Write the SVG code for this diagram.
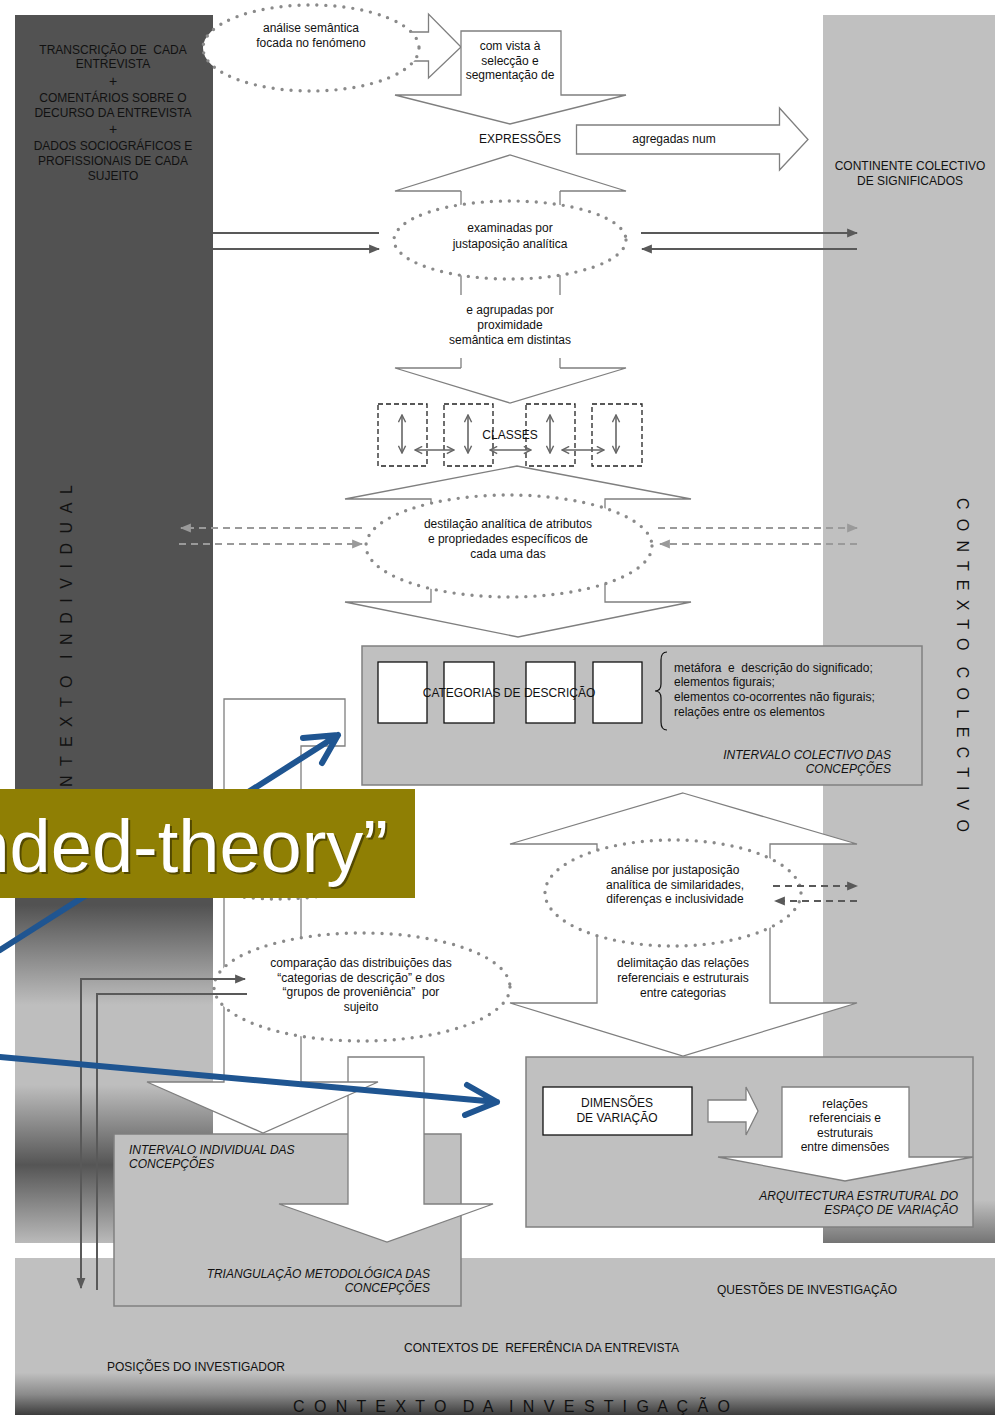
<svg xmlns="http://www.w3.org/2000/svg" width="995" height="1415" viewBox="0 0 995 1415">
<defs>
<style>
text{font-family:"Liberation Sans",Arial,sans-serif;font-size:12px;fill:#111;}
.c{text-anchor:middle;}
.e{text-anchor:end;}
.i{font-style:italic;}
.pre{white-space:pre;}
.blk{fill:#fff;stroke:#7f7f7f;stroke-width:1.3;}
.box{fill:#c0c0c0;stroke:#808080;stroke-width:1.5;}
.wbox{fill:#fff;stroke:#111;stroke-width:1.3;}
.dot{fill:#fff;stroke:#8a8a8a;stroke-width:3.4;stroke-dasharray:0 9;stroke-linecap:round;}
.sol{fill:none;stroke:#595959;stroke-width:2;}
.dsh{fill:none;stroke:#9a9a9a;stroke-width:2;stroke-dasharray:7 5;}
.dshd{fill:none;stroke:#595959;stroke-width:2;stroke-dasharray:7 5;}
.cls{fill:none;stroke:#666;stroke-width:1.6;}
.dbox{fill:none;stroke:#222;stroke-width:1.3;stroke-dasharray:5 3;}
.blue{fill:none;stroke:#1f5591;stroke-width:6;stroke-linecap:round;stroke-linejoin:round;}
.vt{font-size:16px;fill:#111;white-space:pre;}
</style>
<linearGradient id="gl" gradientUnits="userSpaceOnUse" x1="0" y1="15" x2="0" y2="1243">
<stop offset="0" stop-color="#525252"/>
<stop offset="0.7248" stop-color="#525252"/>
<stop offset="0.8062" stop-color="#bebebe"/>
<stop offset="0.8713" stop-color="#bebebe"/>
<stop offset="0.9365" stop-color="#555555"/>
<stop offset="1" stop-color="#bababa"/>
</linearGradient>
<linearGradient id="gr" gradientUnits="userSpaceOnUse" x1="0" y1="15" x2="0" y2="1243">
<stop offset="0" stop-color="#c0c0c0"/>
<stop offset="0.965" stop-color="#c0c0c0"/>
<stop offset="1" stop-color="#747474"/>
</linearGradient>
<linearGradient id="gb" gradientUnits="userSpaceOnUse" x1="0" y1="1258" x2="0" y2="1415">
<stop offset="0" stop-color="#c0c0c0"/>
<stop offset="0.73" stop-color="#c0c0c0"/>
<stop offset="0.87" stop-color="#8a8a8a"/>
<stop offset="1" stop-color="#3c3c3c"/>
</linearGradient>
<marker id="ah" viewBox="0 0 10 10" refX="9" refY="5" markerWidth="11" markerHeight="11" markerUnits="userSpaceOnUse" orient="auto-start-reverse"><path d="M0,1 L10,5 L0,9 z" fill="#595959"/></marker>
<marker id="ahg" viewBox="0 0 10 10" refX="9" refY="5" markerWidth="11" markerHeight="11" markerUnits="userSpaceOnUse" orient="auto-start-reverse"><path d="M0,1 L10,5 L0,9 z" fill="#9a9a9a"/></marker>
<marker id="av" viewBox="0 0 10 10" refX="9" refY="5" markerWidth="9" markerHeight="9" markerUnits="userSpaceOnUse" orient="auto-start-reverse"><path d="M1,1 L9,5 L1,9" fill="none" stroke="#666" stroke-width="1.6"/></marker>
</defs>

<rect x="0" y="0" width="995" height="1415" fill="#fff"/>

<g id="panels">
<rect x="15" y="15" width="198" height="1228" fill="url(#gl)"/>
<rect x="823" y="15" width="172" height="1228" fill="url(#gr)"/>
<rect x="15" y="1258" width="980" height="157" fill="url(#gb)"/>
<text class="vt" transform="translate(72,830) rotate(-90)" textLength="345" lengthAdjust="spacing">C O N T E X T O  I N D I V I D U A L</text>
<text class="vt" transform="translate(957,498) rotate(90)" textLength="334" lengthAdjust="spacing">C O N T E X T O  C O L E C T I V O</text>
<text class="vt" x="293" y="1412" textLength="437" lengthAdjust="spacing">C O N T E X T O  D A  I N V E S T I G A Ç Ã O</text>
</g>

<g id="n-fontes">
<text class="c pre" x="113" y="54">TRANSCRIÇÃO DE  CADA</text>
<text class="c" x="113" y="68">ENTREVISTA</text>
<text class="c" x="113" y="86" style="font-size:14px">+</text>
<text class="c" x="113" y="102">COMENTÁRIOS SOBRE O</text>
<text class="c" x="113" y="117">DECURSO DA ENTREVISTA</text>
<text class="c" x="113" y="134" style="font-size:14px">+</text>
<text class="c" x="113" y="150">DADOS SOCIOGRÁFICOS E</text>
<text class="c" x="113" y="165">PROFISSIONAIS DE CADA</text>
<text class="c" x="113" y="180">SUJEITO</text>
</g>

<g id="n-continente">
<text class="c" x="910" y="170">CONTINENTE COLECTIVO</text>
<text class="c" x="910" y="185">DE SIGNIFICADOS</text>
</g>

<g id="n-analise-semantica">
<path class="blk" d="M395,32 L428.5,32 L428.5,14 L461,47 L428.5,78 L428.5,61 L395,61 Z"/>
<ellipse class="dot" cx="311" cy="48" rx="108" ry="43"/>
<text class="c" x="311" y="32">análise semântica</text>
<text class="c" x="311" y="47">focada no fenómeno</text>
</g>

<g id="n-com-vista">
<path class="blk" d="M461,31 L561,31 L561,95 L626,95 L510,124 L395,95 L461,95 Z"/>
<text class="c" x="510" y="50">com vista à</text>
<text class="c" x="510" y="65">selecção e</text>
<text class="c" x="510" y="79">segmentação de</text>
</g>

<g id="n-expressoes">
<text class="c" x="520" y="143">EXPRESSÕES</text>
<path class="blk" d="M576.5,125 L779.5,125 L779.5,108 L808,139.5 L779.5,170 L779.5,154 L576.5,154 Z"/>
<text class="c" x="674" y="143">agregadas num</text>
</g>

<g id="n-examinadas">
<path class="blk" d="M461,191 L395,191 L510,155 L626,191 L560,191"/>
<path class="blk" d="M461,368 L395,368 L510,403 L626,368 L560,368"/>
<path class="sol" style="stroke:#7f7f7f;stroke-width:1.3" d="M461,191 V295 M560,191 V295 M461,358 V368 M560,358 V368"/>
<ellipse class="dot" cx="510" cy="240" rx="116" ry="39"/>
<text class="c" x="510" y="232">examinadas por</text>
<text class="c" x="510" y="248">justaposição analítica</text>
<text class="c" x="510" y="314">e agrupadas por</text>
<text class="c" x="510" y="329">proximidade</text>
<text class="c" x="510" y="344">semântica em distintas</text>
</g>

<g id="n-classes">
<rect class="dbox" x="378" y="404" width="49" height="62"/>
<rect class="dbox" x="444" y="404" width="49" height="62"/>
<rect class="dbox" x="526" y="404" width="49" height="62"/>
<rect class="dbox" x="592" y="404" width="50" height="62"/>
<text class="c" x="510" y="439">CLASSES</text>
</g>

<g id="n-destilacao">
<path class="blk" d="M431,499 L345,499 L517,466 L691,499 L605,499 L605,602 L691,602 L518,637 L345,602 L431,602 Z"/>
<ellipse class="dot" cx="509" cy="546" rx="143" ry="51"/>
<text class="c" x="508" y="528">destilação analítica de atributos</text>
<text class="c" x="508" y="543">e propriedades específicos de</text>
<text class="c" x="508" y="558">cada uma das</text>
</g>

<g id="n-intervalo-colectivo">
<rect class="box" x="362" y="646" width="560" height="139"/>
<rect class="wbox" x="378" y="662" width="49" height="61"/>
<rect class="wbox" x="444" y="662" width="50" height="61"/>
<rect class="wbox" x="526" y="662" width="49" height="61"/>
<rect class="wbox" x="593" y="662" width="49" height="61"/>
<text class="c" x="509" y="697">CATEGORIAS DE DESCRIÇÃO</text>
<path d="M667,652 Q661,652 661,660 L661,684 Q661,691 655,691 Q661,691 661,698 L661,722 Q661,730 667,730" fill="none" stroke="#111" stroke-width="1.2"/>
<text class="pre" x="674" y="672">metáfora  e  descrição do significado;</text>
<text x="674" y="686">elementos figurais;</text>
<text x="674" y="701">elementos co-ocorrentes não figurais;</text>
<text x="674" y="716">relações entre os elementos</text>
<text class="e i" x="891" y="759">INTERVALO COLECTIVO DAS</text>
<text class="e i" x="891" y="773">CONCEPÇÕES</text>
</g>

<g id="n-analise-justaposicao">
<path class="blk" d="M683,793 L857,844 L770,844 L770,1003 L857,1003 L683,1056 L510,1003 L597,1003 L597,844 L510,844 Z"/>
<ellipse class="dot" cx="673" cy="893" rx="128" ry="53"/>
<text class="c" x="675" y="874">análise por justaposição</text>
<text class="c" x="675" y="889">analítica de similaridades,</text>
<text class="c" x="675" y="903">diferenças e inclusividade</text>
<text class="c" x="683" y="967">delimitação das relações</text>
<text class="c" x="683" y="982">referenciais e estruturais</text>
<text class="c" x="683" y="997">entre categorias</text>
</g>

<g id="n-arquitectura">
<rect class="box" x="526" y="1057" width="447" height="170"/>
<rect class="wbox" x="543" y="1087" width="149" height="48"/>
<text class="c" x="617" y="1107">DIMENSÕES</text>
<text class="c" x="617" y="1122">DE VARIAÇÃO</text>
<path class="blk" d="M708,1100 L746,1100 L746,1087 L758,1111 L746,1135 L746,1122 L708,1122 Z"/>
<path class="blk" d="M782,1087 L909,1087 L909,1157 L973,1157 L845,1181 L718,1157 L782,1157 Z"/>
<text class="c" x="845" y="1108">relações</text>
<text class="c" x="845" y="1122">referenciais e</text>
<text class="c" x="845" y="1137">estruturais</text>
<text class="c" x="845" y="1151">entre dimensões</text>
<text class="e i" x="958" y="1200">ARQUITECTURA ESTRUTURAL DO</text>
<text class="e i" x="958" y="1214">ESPAÇO DE VARIAÇÃO</text>
</g>

<g id="n-intervalo-individual">
<rect class="box" x="114" y="1134" width="347" height="172"/>
<text class="i" x="129" y="1154">INTERVALO INDIVIDUAL DAS</text>
<text class="i" x="129" y="1168">CONCEPÇÕES</text>
<text class="e i" x="430" y="1278">TRIANGULAÇÃO METODOLÓGICA DAS</text>
<text class="e i" x="430" y="1292">CONCEPÇÕES</text>
</g>

<g id="n-triangulacao-arrow">
<path class="blk" d="M348,1057 L424,1057 L424,1204 L493,1204 L387,1242 L279,1204 L348,1204 Z"/>
</g>

<g id="n-individual-arrow">
<path class="blk" d="M224,699 L345,699 L345,746 L301,746 L301,1082 L378,1082 L263,1133 L147,1082 L224,1082 Z"/>
<ellipse class="dot" cx="278" cy="845" rx="135" ry="54"/>
</g>

<g id="n-comparacao">
<ellipse class="dot" cx="362" cy="987" rx="148" ry="54"/>
<text class="c" x="361" y="967">comparação das distribuições das</text>
<text class="c" x="361" y="982">“categorias de descrição” e dos</text>
<text class="c pre" x="361" y="996">“grupos de proveniência”  por</text>
<text class="c" x="361" y="1011">sujeito</text>
</g>

<g id="n-contextos">
<text x="717" y="1294">QUESTÕES DE INVESTIGAÇÃO</text>
<text class="pre" x="404" y="1352">CONTEXTOS DE  REFERÊNCIA DA ENTREVISTA</text>
<text x="107" y="1371">POSIÇÕES DO INVESTIGADOR</text>
</g>

<g id="connectors">
<path class="sol" d="M213,233 H379"/>
<path class="sol" d="M213,249 H379" marker-end="url(#ah)"/>
<path class="sol" d="M641,233 H857" marker-end="url(#ah)"/>
<path class="sol" d="M857,249 H642" marker-end="url(#ah)"/>
<path class="cls" d="M402,415 V453" marker-start="url(#av)" marker-end="url(#av)"/>
<path class="cls" d="M468,415 V453" marker-start="url(#av)" marker-end="url(#av)"/>
<path class="cls" d="M550,415 V453" marker-start="url(#av)" marker-end="url(#av)"/>
<path class="cls" d="M616,415 V453" marker-start="url(#av)" marker-end="url(#av)"/>
<path class="cls" d="M415,450 H454" marker-start="url(#av)" marker-end="url(#av)"/>
<path class="cls" d="M490,450 H531" marker-start="url(#av)" marker-end="url(#av)"/>
<path class="cls" d="M562,450 H604" marker-start="url(#av)" marker-end="url(#av)"/>
<path class="dsh" d="M362,528 H181" marker-end="url(#ahg)"/>
<path class="dsh" d="M179,544 H362" marker-end="url(#ahg)"/>
<path class="dsh" d="M658,528 H857" marker-end="url(#ahg)"/>
<path class="dsh" d="M857,544 H660" marker-end="url(#ahg)"/>
<path class="dshd" d="M773,886 H857" marker-end="url(#ah)"/>
<path class="dshd" d="M857,901 H775" marker-end="url(#ah)"/>
<path class="sol" d="M81,1288 V979 H245" marker-start="url(#ah)" marker-end="url(#ah)"/>
<path class="sol" d="M97,1290 V994 H247"/>
</g>

<g id="blue-arrows">
<path class="blue" d="M0,950 L338,735 M303,738 L338,735 L322,763"/>
<path class="blue" d="M0,1057 L497,1102 M467,1085 L497,1102 L465,1115"/>
</g>

<g id="banner">
<rect x="0" y="789" width="415" height="109" fill="#8f7f04"/>
<text x="390" y="874" text-anchor="end" style="font-size:74px;fill:#3a3300;opacity:0.7">nded-theory”</text>
<text x="388" y="872" text-anchor="end" style="font-size:74px;fill:#fff">nded-theory”</text>
</g>
</svg>
